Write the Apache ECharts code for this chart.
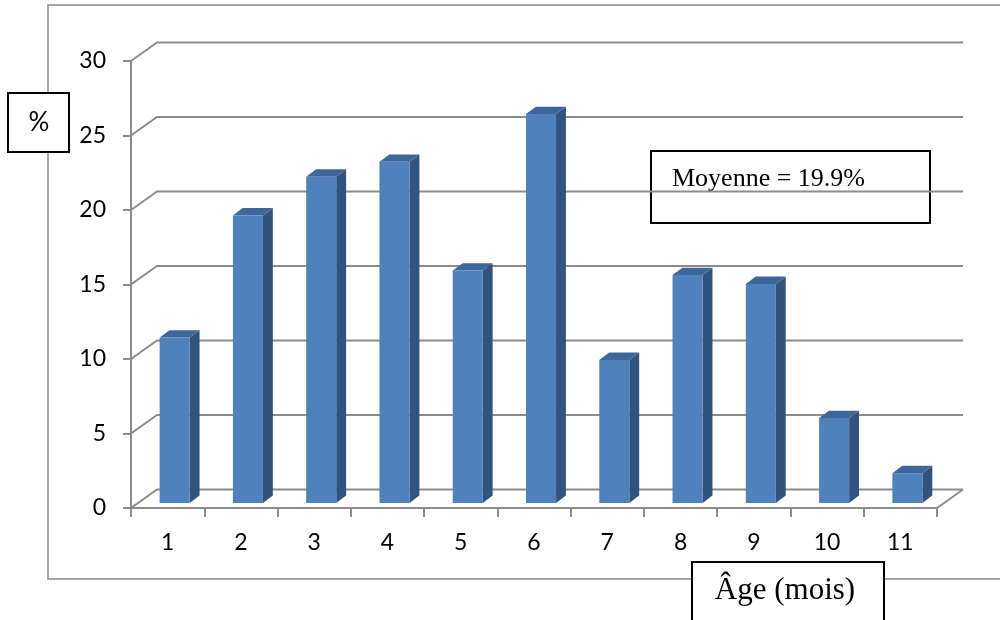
<!DOCTYPE html>
<html>
<head>
<meta charset="utf-8">
<script src="https://cdn.jsdelivr.net/npm/echarts@6/dist/echarts.min.js"></script>
<style>
  html, body { margin: 0; padding: 0; background: #ffffff; }
  #chart { width: 1000px; height: 620px; }
</style>
</head>
<body>
<div id="chart"></div>
<script>
// Age in months and share of children (%) for each month
const categories = ['1', '2', '3', '4', '5', '6', '7', '8', '9', '10', '11'];
const shares = [11.1, 19.3, 21.9, 22.9, 15.6, 26.1, 9.6, 15.3, 14.7, 5.7, 2.0];
const yTicks = [0, 5, 10, 15, 20, 25, 30];
const meanLabel = 'Moyenne = 19.9%';
const yTitle = '%';
const xTitle = 'Âge (mois)';

// Oblique depth of the 3-D box (back wall offset from the front plane)
const DEPTH_X = 26;
const DEPTH_Y = -18.5;
const GRID_COLOR = '#8c8c8c';

const chart = echarts.init(document.getElementById('chart'), null, { renderer: 'canvas' });

// Back wall gridlines with the diagonal side-wall segments
function renderWall(params, api) {
  const cs = params.coordSys;
  const left = cs.x, right = cs.x + cs.width;
  const y = api.coord([0, api.value(1)])[1];
  const children = [{
    type: 'polyline',
    shape: { points: [[left, y], [left + DEPTH_X, y + DEPTH_Y], [right + DEPTH_X, y + DEPTH_Y]] },
    style: { stroke: GRID_COLOR, lineWidth: 2, fill: null }
  }];
  if (api.value(1) === 0) {
    children.push({
      type: 'line',
      shape: { x1: right, y1: y, x2: right + DEPTH_X, y2: y + DEPTH_Y },
      style: { stroke: GRID_COLOR, lineWidth: 2 }
    });
  }
  return { type: 'group', children: children };
}

// 3-D column: front face, right side and top
function renderBar(params, api) {
  const idx = api.value(0);
  const val = api.value(1);
  const top = api.coord([idx, val]);
  const base = api.coord([idx, 0]);
  const band = api.size([1, 0])[0];
  const w = band * 0.41;
  const fx = DEPTH_X * 0.27, fy = DEPTH_Y * 0.27;
  const dx = DEPTH_X * 0.38, dy = DEPTH_Y * 0.40;
  const x0 = top[0] + fx - w / 2;
  const x1 = x0 + w;
  const yT = top[1] + fy;
  const yB = base[1] + fy;
  return {
    type: 'group',
    children: [
      {
        type: 'polygon',
        shape: { points: [[x1, yB], [x1, yT], [x1 + dx, yT + dy], [x1 + dx, yB + dy]] },
        style: { fill: '#31547f' }
      },
      {
        type: 'polygon',
        shape: { points: [[x0, yT], [x1, yT], [x1 + dx, yT + dy], [x0 + dx, yT + dy]] },
        style: { fill: '#3d679a' }
      },
      {
        type: 'rect',
        shape: { x: x0, y: yT, width: w, height: yB - yT },
        style: { fill: '#4f81bd' }
      }
    ]
  };
}

const option = {
  animation: false,
  backgroundColor: '#ffffff',
  grid: { left: 131, top: 61, width: 806, height: 447, containLabel: false },
  xAxis: {
    type: 'category',
    data: categories,
    boundaryGap: true,
    axisLine: { show: true, lineStyle: { color: GRID_COLOR, width: 2 } },
    axisTick: { show: true, length: 9, lineStyle: { color: GRID_COLOR, width: 2 } },
    axisLabel: { color: '#000000', fontFamily: 'Lato', fontSize: 23, margin: 23 },
    splitLine: { show: false }
  },
  yAxis: {
    type: 'value',
    min: 0,
    max: 30,
    interval: 5,
    axisLine: { show: true, lineStyle: { color: GRID_COLOR, width: 2 } },
    axisTick: { show: true, length: 8, lineStyle: { color: GRID_COLOR, width: 2 } },
    axisLabel: { color: '#000000', fontFamily: 'Lato', fontSize: 23, margin: 25 },
    splitLine: { show: false }
  },
  series: [
    {
      type: 'custom',
      z: 1,
      silent: true,
      renderItem: renderWall,
      encode: { x: 0, y: 1 },
      data: yTicks.map(function (v) { return [0, v]; })
    },
    {
      type: 'custom',
      z: 2,
      renderItem: renderBar,
      encode: { x: 0, y: 1 },
      data: shares.map(function (v, i) { return [i, v]; })
    }
  ],
  graphic: [
    {
      type: 'rect',
      z: 0,
      shape: { x: 48, y: 5, width: 1000, height: 574 },
      style: { fill: null, stroke: '#8a8a8a', lineWidth: 1.5 }
    },
    {
      type: 'group',
      z: 10,
      children: [
        {
          type: 'rect',
          shape: { x: 8, y: 93, width: 61, height: 59 },
          style: { fill: '#ffffff', stroke: '#000000', lineWidth: 2 }
        },
        {
          type: 'text',
          x: 39, y: 123,
          style: { text: yTitle, fill: '#000000', font: '26px Lato', align: 'center', verticalAlign: 'middle' }
        },
        {
          type: 'rect',
          shape: { x: 651, y: 151, width: 279, height: 72 },
          style: { fill: '#ffffff', stroke: '#000000', lineWidth: 2 }
        },
        {
          type: 'text',
          x: 672, y: 179,
          style: { text: meanLabel, fill: '#000000', font: '26px "Liberation Serif"', align: 'left', verticalAlign: 'middle' }
        },
        {
          type: 'rect',
          shape: { x: 692, y: 562, width: 192, height: 70 },
          style: { fill: '#ffffff', stroke: '#000000', lineWidth: 2 }
        },
        {
          type: 'text',
          x: 785, y: 591,
          style: { text: xTitle, fill: '#000000', font: '31px "Liberation Serif"', align: 'center', verticalAlign: 'middle' }
        }
      ]
    }
  ]
};

chart.setOption(option);
</script>
</body>
</html>
